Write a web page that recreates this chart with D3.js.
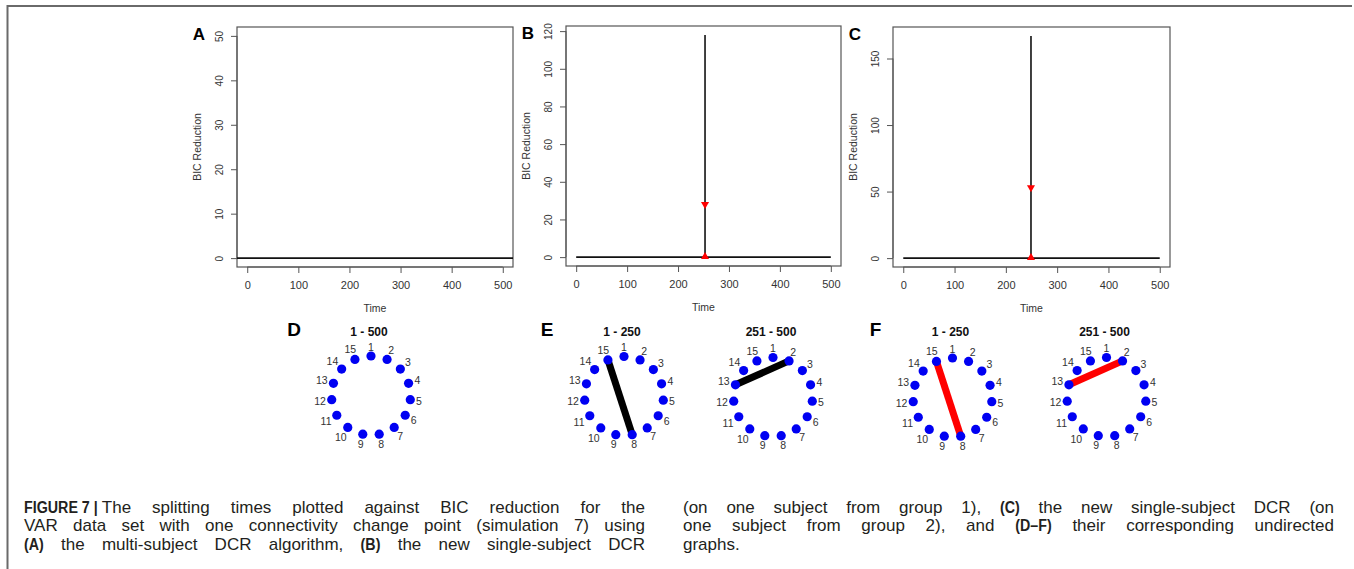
<!DOCTYPE html>
<html>
<head>
<meta charset="utf-8">
<script src="https://cdn.jsdelivr.net/npm/d3@7"></script>
<style>
  html, body { margin: 0; padding: 0; background: #fff; }
  svg { display: block; }
</style>
</head>
<body>
<svg id="fig" width="1354" height="569"></svg>
<script>
// ---------------- data ----------------
const plotIds = ["A", "B", "C"];
const bicMax = [50, 118, 167];                       // top of each BIC range
const bicTicks = [[0, 10, 20, 30, 40, 50], [0, 20, 40, 60, 80, 100, 120], [0, 50, 100, 150]];
const timeTicks = [0, 100, 200, 300, 400, 500];
const timeRange = [0, 500];
const splitTimes = [null, 253, 249];                 // detected change point
const splitBIC = [null, 118, 167];                   // BIC reduction at the split
const thresholdBIC = [null, 28, 53];                 // permutation threshold

const graphPanelIds = ["D", "E", null, "F", null];
const graphTitles = ["1 - 500", "1 - 250", "251 - 500", "1 - 250", "251 - 500"];
const graphEdges = [[], [[15, 8]], [[13, 2]], [[15, 8]], [[13, 2]]];
const nodeIds = [1, 2, 3, 4, 5, 6, 7, 8, 9, 10, 11, 12, 13, 14, 15];

const captionLeft = [
  "*FIGURE\u00a07\u00a0|\u00a0*The splitting times plotted against BIC reduction for the",
  "VAR data set with one connectivity change point (simulation 7) using",
  "*(A)* the multi-subject DCR algorithm, *(B)* the new single-subject DCR"
];
const captionRight = [
  "(on one subject from group 1), *(C)* the new single-subject DCR (on",
  "one subject from group 2), and *(D\u2013F)* their corresponding undirected",
  "graphs."
];

// ---------------- layout & style ----------------
const svg = d3.select("#fig");
const plotFont = "'Liberation Sans', Arial, Helvetica, sans-serif";
const inkGray = "#333";
const frameGray = "#555";

const plotBoxes = [
  { x0: 237, x1: 513, y0: 27, y1: 267 },
  { x0: 566, x1: 841, y0: 26, y1: 266 },
  { x0: 893, x1: 1170, y0: 27, y1: 267 }
];
const graphCx = [371, 624, 773, 952.5, 1106.5];
const graphCy = [395.5, 396, 397, 397.5, 397];
const graphR = 39.5;
const edgeColors = ["#000", "#000", "#000", "#f00", "#f00"];

// outer figure frame (top and left rules)
svg.append("path")
  .attr("d", "M7.5,569 V6 H1352")
  .attr("fill", "none").attr("stroke", "#6a6a6a").attr("stroke-width", 2);

// ---------------- BIC reduction plots ----------------
plotIds.forEach((id, i) => {
  const b = plotBoxes[i];
  const pad = 0.04;
  const tSpan = timeRange[1] - timeRange[0];
  const x = d3.scaleLinear()
    .domain([timeRange[0] - pad * tSpan, timeRange[1] + pad * tSpan])
    .range([b.x0, b.x1]);
  const y = d3.scaleLinear()
    .domain([-pad * bicMax[i], bicMax[i] * (1 + pad)])
    .range([b.y1, b.y0]);
  const g = svg.append("g").attr("font-family", plotFont).attr("fill", inkGray);

  // x axis (ticks below the box)
  const xAxis = g.append("g").attr("transform", `translate(0,${b.y1})`)
    .call(d3.axisBottom(x).tickValues(timeTicks).tickSizeOuter(0).tickSize(6).tickPadding(6));
  xAxis.attr("font-family", plotFont);
  xAxis.select(".domain").attr("d", `M${x(timeTicks[0])},0H${x(timeTicks[timeTicks.length - 1])}`)
    .attr("stroke", frameGray);
  xAxis.selectAll(".tick line").attr("stroke", frameGray);
  xAxis.selectAll(".tick text").attr("font-size", 11).attr("fill", inkGray)
    .attr("font-family", plotFont).attr("dy", "0.9em");

  // y axis (rotated labels, R style)
  const yt = bicTicks[i];
  const yAxis = g.append("g").attr("transform", `translate(${b.x0},0)`)
    .call(d3.axisLeft(y).tickValues(yt).tickSizeOuter(0).tickSize(6).tickFormat(d3.format("d")));
  yAxis.attr("font-family", plotFont);
  yAxis.select(".domain").attr("d", `M0,${y(yt[0])}V${y(yt[yt.length - 1])}`).attr("stroke", frameGray);
  yAxis.selectAll(".tick line").attr("stroke", frameGray);
  yAxis.selectAll(".tick text")
    .attr("x", 0).attr("dy", 0)
    .attr("transform", "translate(-14,0) rotate(-90)")
    .attr("text-anchor", "middle")
    .attr("font-size", 10).attr("fill", inkGray).attr("font-family", plotFont);

  // plot frame
  g.append("rect").attr("x", b.x0).attr("y", b.y0)
    .attr("width", b.x1 - b.x0).attr("height", b.y1 - b.y0)
    .attr("fill", "none").attr("stroke", frameGray).attr("stroke-width", 1.2);

  // axis titles
  g.append("text").attr("x", (b.x0 + b.x1) / 2).attr("y", b.y1 + 45)
    .attr("text-anchor", "middle").attr("font-size", 10.5).text("Time");
  g.append("text")
    .attr("transform", `translate(${b.x0 - 36.5},${(b.y0 + b.y1) / 2}) rotate(-90)`)
    .attr("text-anchor", "middle").attr("font-size", 10.5).text("BIC Reduction");

  // panel letter
  g.append("text").attr("x", b.x0 - 38).attr("y", b.y0 + 13)
    .attr("text-anchor", "middle").attr("font-size", 17).attr("font-weight", 700)
    .attr("fill", "#000").text(id);

  // marks, clipped to the plotting region
  const clipId = "clip" + id;
  g.append("clipPath").attr("id", clipId).append("rect")
    .attr("x", b.x0).attr("y", b.y0).attr("width", b.x1 - b.x0).attr("height", b.y1 - b.y0);
  const marks = g.append("g").attr("clip-path", `url(#${clipId})`);
  const lineGen = d3.line().x(d => x(d[0])).y(d => y(d[1]));
  const stroke = sel => sel.attr("stroke", "#111").attr("stroke-width", 1.6).attr("fill", "none");
  if (splitTimes[i] === null) {
    // no split detected: BIC reduction stays at zero across the whole range
    marks.append("path").datum([[x.domain()[0], 0], [x.domain()[1], 0]]).attr("d", lineGen).call(stroke);
  } else {
    marks.append("path").datum([[timeRange[0], 0], [timeRange[1], 0]]).attr("d", lineGen).call(stroke);
    marks.append("path").datum([[splitTimes[i], 0], [splitTimes[i], splitBIC[i]]]).attr("d", lineGen).call(stroke);
    const tri = d3.symbol().type(d3.symbolTriangle).size(28);
    marks.append("path").attr("d", tri())
      .attr("transform", `translate(${x(splitTimes[i])},${y(thresholdBIC[i])}) rotate(180)`)
      .attr("fill", "#f00");
    marks.append("path").attr("d", tri())
      .attr("transform", `translate(${x(splitTimes[i])},${y(0) - 0.5})`)
      .attr("fill", "#f00");
  }
});

// ---------------- undirected graphs ----------------
const angle = d3.scaleLinear().domain([1, nodeIds.length + 1]).range([-Math.PI / 2, 1.5 * Math.PI]);
graphTitles.forEach((title, k) => {
  const cx = graphCx[k], cy = graphCy[k];
  const g = svg.append("g").attr("font-family", plotFont);
  const pos = id => [cx + graphR * Math.cos(angle(id)), cy + graphR * Math.sin(angle(id))];

  if (graphPanelIds[k]) {
    g.append("text").attr("x", cx - 77).attr("y", 336).attr("text-anchor", "middle")
      .attr("font-size", 19).attr("font-weight", 700).attr("fill", "#000").text(graphPanelIds[k]);
  }
  g.append("text").attr("x", cx - 2).attr("y", 335.5).attr("text-anchor", "middle")
    .attr("font-size", 12).attr("font-weight", 700).attr("fill", "#111").text(title);

  g.selectAll("line.edge").data(graphEdges[k]).join("line").attr("class", "edge")
    .attr("x1", d => pos(d[0])[0]).attr("y1", d => pos(d[0])[1])
    .attr("x2", d => pos(d[1])[0]).attr("y2", d => pos(d[1])[1])
    .attr("stroke", edgeColors[k]).attr("stroke-width", 7);

  g.selectAll("circle.node").data(nodeIds).join("circle").attr("class", "node")
    .attr("cx", d => pos(d)[0]).attr("cy", d => pos(d)[1]).attr("r", 4.6)
    .attr("fill", "#0000f2");

  // labels pushed radially outward, allowing for the glyph box
  g.selectAll("text.lab").data(nodeIds).join("text").attr("class", "lab")
    .attr("font-size", 10.5).attr("fill", inkGray).attr("text-anchor", "middle")
    .attr("dominant-baseline", "central")
    .text(d => d)
    .each(function (d) {
      const a = angle(d);
      const halfW = (String(d).length * 5.8) / 2, halfH = 3.8;
      const r = graphR + 5.5 + halfW * Math.abs(Math.cos(a)) + halfH * Math.abs(Math.sin(a));
      d3.select(this).attr("x", cx + r * Math.cos(a)).attr("y", cy + r * Math.sin(a));
    });
});

// ---------------- caption (justified two-column text) ----------------
const capFont = "'Liberation Sans', Arial, sans-serif";
const capSize = 17;
const squeezeRegular = 1.0;
const squeezeBold = 0.84;
const cap = svg.append("g").attr("font-family", capFont).attr("font-size", capSize).attr("fill", "#231f20");

// split a marked-up line into words; each word is a list of runs (*...* = bold)
function tokenize(line) {
  const units = [];
  let bold = false;
  line.split(" ").forEach(word => {
    const runs = [];
    word.split("*").forEach((piece, j) => {
      if (j > 0) bold = !bold;
      if (piece.length) runs.push({ t: piece, b: bold });
    });
    if (runs.length) units.push(runs);
  });
  return units;
}

function setLine(line, x0, x1, yBase, justify) {
  const units = tokenize(line).map(runs => runs.map(r => {
    const el = cap.append("text").attr("font-weight", r.b ? 700 : 400).text(r.t);
    const s = r.b ? squeezeBold : squeezeRegular;
    return { el, s, w: el.node().getComputedTextLength() * s };
  }));
  const widths = units.map(u => d3.sum(u, r => r.w));
  const total = d3.sum(widths);
  const gap = justify && units.length > 1 ? (x1 - x0 - total) / (units.length - 1) : capSize * 0.27;
  let x = x0;
  units.forEach((u, i) => {
    let xr = x;
    u.forEach(r => {
      r.el.attr("transform", `translate(${xr},${yBase}) scale(${r.s},1)`);
      xr += r.w;
    });
    x += widths[i] + gap;
  });
}

const capLines = [512.5, 531, 549.5];
captionLeft.forEach((ln, i) => setLine(ln, 24, 645, capLines[i], true));
captionRight.forEach((ln, i) => setLine(ln, 683, 1334, capLines[i], i < captionRight.length - 1));
</script>
</body>
</html>
